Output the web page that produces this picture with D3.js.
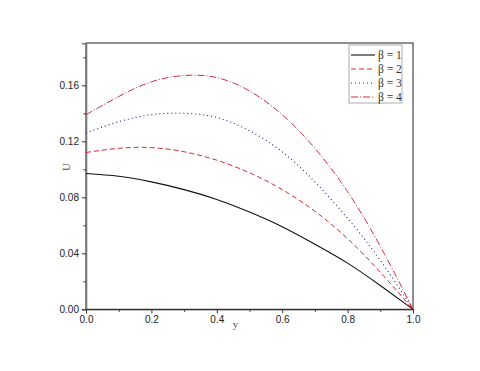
<!DOCTYPE html>
<html>
<head>
<meta charset="utf-8">
<script src="https://cdn.jsdelivr.net/npm/d3@7"></script>
<style>
  body { margin: 0; background: #fff; }
  svg { display: block; }
</style>
</head>
<body>
<svg id="chart" width="480" height="371"></svg>
<script>
// values
var yPos = [0, 0.1, 0.2, 0.3, 0.4, 0.5, 0.6, 0.7, 0.8, 0.9, 1.0];
var beta1 = [0.097, 0.095, 0.091, 0.0855, 0.0785, 0.0695, 0.059, 0.0465, 0.033, 0.017, 0];
var beta2 = [0.112, 0.115, 0.1155, 0.1125, 0.1065, 0.0975, 0.0855, 0.070, 0.0505, 0.0265, 0];
var beta3 = [0.126, 0.134, 0.139, 0.140, 0.137, 0.1275, 0.1125, 0.091, 0.065, 0.035, 0];
var beta4 = [0.139, 0.152, 0.1625, 0.167, 0.1655, 0.156, 0.139, 0.115, 0.084, 0.045, 0];
var xTicks = [0, 0.2, 0.4, 0.6, 0.8, 1.0];
var yTicks = [0, 0.04, 0.08, 0.12, 0.16];
var legendNames = ["\u03b2 = 1", "\u03b2 = 2", "\u03b2 = 3", "\u03b2 = 4"];

var series = [
  { name: legendNames[0], vals: beta1, color: "#111", dash: null, w: 1.1 },
  { name: legendNames[1], vals: beta2, color: "#e0262a", dash: "5,3", w: 1 },
  { name: legendNames[2], vals: beta3, color: "#1c1c8c", dash: "1,3", w: 1.1 },
  { name: legendNames[3], vals: beta4, color: "#cc2f45", dash: "7,2,1,2", w: 1 }
];

var svg = d3.select("#chart"),
    pLeft = 86, pRight = 413, pTop = 43, pBottom = 309.3;

var x = d3.scaleLinear().domain([0, 1]).range([pLeft, pRight]);
var y = d3.scaleLinear().domain([0, 0.19]).range([pBottom, pBottom - 0.19 * 1400]);

// frame
svg.append("rect")
  .attr("x", pLeft).attr("y", pTop)
  .attr("width", pRight - pLeft).attr("height", pBottom - pTop)
  .attr("fill", "none").attr("stroke", "#222").attr("stroke-width", 1);

// y axis
var yAxis = d3.axisLeft(y).tickValues(yTicks).tickFormat(d3.format(".2f")).tickSize(4).tickPadding(3);
var gy = svg.append("g").attr("transform", "translate(" + pLeft + ",0)").call(yAxis);
gy.select(".domain").attr("stroke", "#777").attr("stroke-width", 1.6);
var gyMinor = svg.append("g").attr("transform", "translate(" + pLeft + ",0)")
  .call(d3.axisLeft(y).tickValues([0.02, 0.06, 0.10, 0.14, 0.18]).tickFormat("").tickSize(2.5));
gyMinor.select(".domain").remove();

// x axis
var xAxis = d3.axisBottom(x).tickValues(xTicks).tickFormat(d3.format(".1f")).tickSize(4).tickPadding(3);
var gx = svg.append("g").attr("transform", "translate(0," + pBottom + ")").call(xAxis);
gx.select(".domain").attr("stroke", "#222");
var gxMinor = svg.append("g").attr("transform", "translate(0," + pBottom + ")")
  .call(d3.axisBottom(x).tickValues([0.1, 0.3, 0.5, 0.7, 0.9]).tickFormat("").tickSize(2.5));
gxMinor.select(".domain").remove();

svg.selectAll(".tick text")
  .attr("font-family", "Liberation Sans, Arial, sans-serif")
  .attr("font-size", 10).attr("fill", "#222");
svg.selectAll(".tick line").attr("stroke", "#333");

// axis titles
svg.append("text").attr("x", x(0.5) - 14).attr("y", 328)
  .attr("text-anchor", "middle")
  .attr("font-family", "Liberation Serif, serif").attr("font-size", 11).attr("fill", "#555")
  .text("y");
svg.append("text")
  .attr("transform", "translate(70,167) rotate(-90)")
  .attr("text-anchor", "middle")
  .attr("font-family", "Liberation Serif, serif").attr("font-size", 11).attr("fill", "#444")
  .text("U");

// curves
var line = d3.line()
  .x(function(d, i) { return x(yPos[i]); })
  .y(function(d) { return y(d); })
  .curve(d3.curveNatural);

series.forEach(function(s) {
  svg.append("path")
    .attr("d", line(s.vals))
    .attr("fill", "none")
    .attr("stroke", s.color)
    .attr("stroke-width", s.w)
    .attr("stroke-dasharray", s.dash);
});

// legend
svg.append("rect").attr("x", 349).attr("y", 45).attr("width", 53).attr("height", 58)
  .attr("fill", "#fff").attr("stroke", "#999").attr("stroke-width", 0.8);

series.forEach(function(s, i) {
  var ly = 55 + i * 14;
  svg.append("line")
    .attr("x1", 351).attr("x2", 375).attr("y1", ly).attr("y2", ly)
    .attr("stroke", s.color).attr("stroke-width", s.w)
    .attr("stroke-dasharray", s.dash);
  svg.append("text").attr("x", 378).attr("y", ly + 4)
    .attr("font-family", "Liberation Serif, serif").attr("font-size", 11.5).attr("fill", "#333")
    .text(s.name);
});
</script>
</body>
</html>
